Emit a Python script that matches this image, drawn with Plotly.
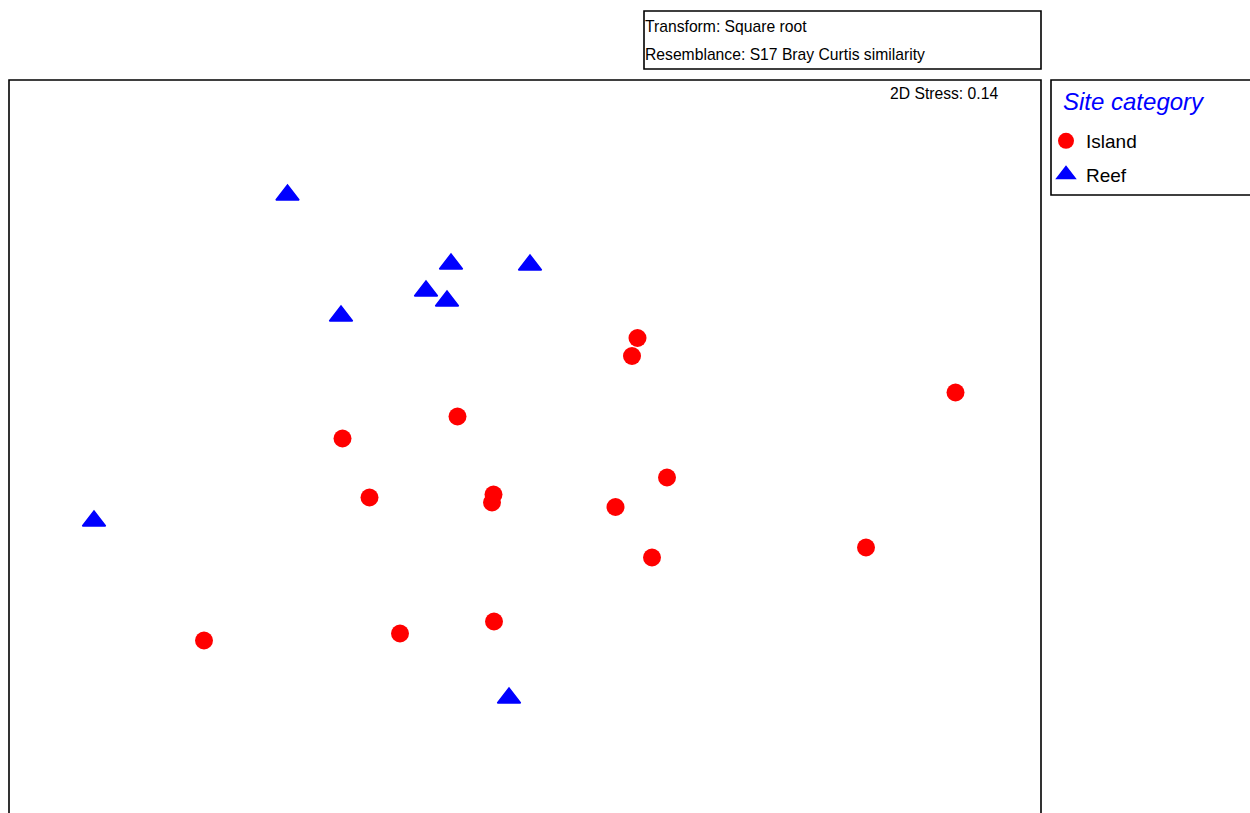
import plotly.graph_objects as go

# nMDS coordinates
island_mds1 = [0.225, 0.214, -0.365, -0.135, -0.311, -0.063, -0.066, 0.284,
               0.181, 0.254, -0.642, -0.250, -0.062, 0.861, 0.682]
island_mds2 = [0.224, 0.188, 0.023, 0.067, -0.095, -0.089, -0.105, -0.055,
               -0.114, -0.215, -0.381, -0.367, -0.343, 0.115, -0.195]

reef_mds1 = [-0.475, -0.148, 0.010, -0.198, -0.156, -0.368, -0.862, -0.032]
reef_mds2 = [0.510, 0.372, 0.370, 0.318, 0.298, 0.268, -0.142, -0.496]

categories = ["Island", "Reef"]
stress_text = "2D Stress: 0.14"
info_lines = ["Transform: Square root", "Resemblance: S17 Bray Curtis similarity"]
legend_title = "Site category"

FONT = "Liberation Sans, Arial, sans-serif"
W, H = 1250, 813
L, R, T, B = 9, 209, 80, 0
PW, PH = W - L - R, H - T - B


def px(x):
    return (x - L) / PW


def py(y):
    return (H - B - y) / PH


fig = go.Figure()
fig.add_trace(go.Scatter(
    x=island_mds1, y=island_mds2, mode="markers", name=categories[0],
    legendgroup="g1",
    marker=dict(symbol="circle", size=18, color="#FF0000", line=dict(width=0)),
))
fig.add_trace(go.Scatter(
    x=reef_mds1, y=reef_mds2, mode="markers", name=categories[1],
    legendgroup="g2",
    marker=dict(symbol="triangle-up", size=20, color="#0000FF",
                line=dict(width=1.5, color="#0000FF")),
))

axis_common = dict(showgrid=False, zeroline=False, showticklabels=False,
                   showline=False, ticks="", fixedrange=True)

shapes = [
    # main plot frame (bottom edge lies below the visible canvas)
    dict(type="rect", xref="paper", yref="paper", x0=0, x1=1, y0=-0.2, y1=1,
         line=dict(color="black", width=1.6), fillcolor="rgba(0,0,0,0)"),
    # info box
    dict(type="rect", xref="paper", yref="paper", x0=px(644), x1=px(1041),
         y0=py(69), y1=py(11), line=dict(color="black", width=1.6),
         fillcolor="rgba(0,0,0,0)"),
    # legend box
    dict(type="rect", xref="paper", yref="paper", x0=px(1051), x1=px(1300),
         y0=py(195), y1=py(80), line=dict(color="black", width=1.6),
         fillcolor="rgba(0,0,0,0)"),
]

annotations = [
    dict(text=stress_text, xref="paper", yref="paper", x=px(1000), y=py(94),
         xanchor="right", yanchor="middle", showarrow=False,
         font=dict(family=FONT, size=15.7, color="black")),
    dict(text=info_lines[0], xref="paper", yref="paper", x=px(643), y=py(26),
         xanchor="left", yanchor="middle", showarrow=False,
         font=dict(family=FONT, size=15.7, color="black")),
    dict(text=info_lines[1], xref="paper", yref="paper", x=px(643), y=py(55),
         xanchor="left", yanchor="middle", showarrow=False,
         font=dict(family=FONT, size=15.7, color="black")),
    dict(text="<i>" + legend_title + "</i>", xref="paper", yref="paper",
         x=px(1061), y=py(101), xanchor="left", yanchor="middle",
         showarrow=False, font=dict(family=FONT, size=24, color="#0000FF")),
]

fig.update_layout(
    width=W, height=H,
    margin=dict(l=L, r=R, t=T, b=B, pad=0),
    paper_bgcolor="white", plot_bgcolor="white",
    font=dict(family=FONT, color="black"),
    xaxis=dict(range=[-1.032, 1.032], **axis_common),
    yaxis=dict(range=[-0.726, 0.74], **axis_common),
    shapes=shapes,
    annotations=annotations,
    showlegend=True,
    legend=dict(x=px(1046), xanchor="left", y=py(122), yanchor="top",
                font=dict(family=FONT, size=19, color="black"),
                bgcolor="rgba(0,0,0,0)", borderwidth=0,
                tracegroupgap=6),
)

fig.write_html(
    "out.html",
    config={"displayModeBar": False},
    post_script="document.body.style.margin='0px';"
                "document.body.style.overflow='hidden';",
)
